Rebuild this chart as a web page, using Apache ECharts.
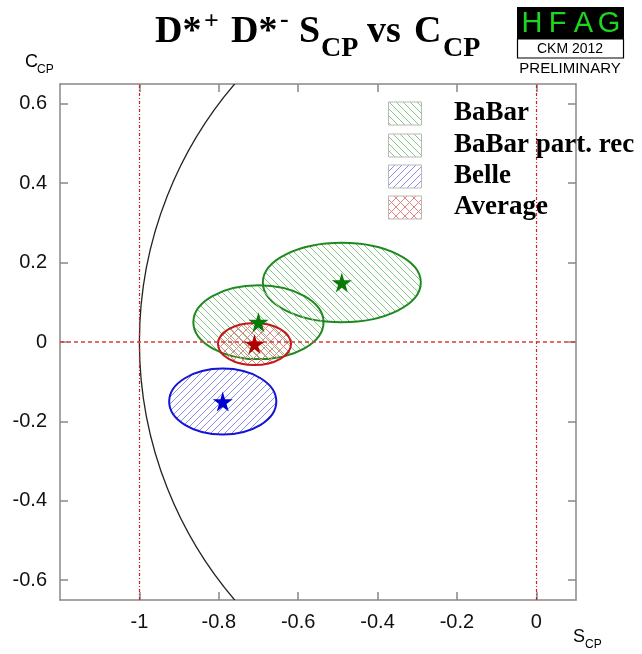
<!DOCTYPE html>
<html>
<head>
<meta charset="utf-8">
<script src="https://cdn.jsdelivr.net/npm/echarts@6/dist/echarts.min.js"></script>
<style>
html, body { margin: 0; padding: 0; background: #fff; }
#chart { width: 642px; height: 654px; }
</style>
</head>
<body>
<div id="chart"></div>
<script>
// measurements
const names = ['BaBar', 'BaBar part. rec', 'Belle', 'Average'];
// central values
const sValues = [-0.49, -0.70, -0.79, -0.71];
const cValues = [0.15, 0.05, -0.15, -0.005];
// half axes of the error ellipses
const sErrors = [0.199, 0.164, 0.135, 0.092];
const cErrors = [0.100, 0.093, 0.083, 0.053];
// physical boundary S^2 + C^2 = 1 : [cx, cy, rx, ry]
const boundary = [[0, 0, 1, 1]];
const xTicks = [-1, -0.8, -0.6, -0.4, -0.2, 0];
const yTicks = [-0.6, -0.4, -0.2, 0, 0.2, 0.4, 0.6];

const strokeColors = ['#1e8a1e', '#1e8a1e', '#1414d6', '#c41818'];
const hatchColors = ['#86c686', '#86c686', '#8e8eec', '#e28484'];
const starColors = ['#087a08', '#087a08', '#0000d2', '#b00000'];
const hatchDirs = ['\\', '\\', '/', 'x'];

function hatch(color, dir) {
  const n = dir === 'x' ? 9 : 7;
  const cv = document.createElement('canvas');
  cv.width = n; cv.height = n;
  const ctx = cv.getContext('2d');
  ctx.strokeStyle = color;
  ctx.lineWidth = 1;
  for (const k of [-n, 0, n]) {
    if (dir === '\\' || dir === 'x') {
      ctx.beginPath(); ctx.moveTo(k, 0); ctx.lineTo(k + n, n); ctx.stroke();
    }
    if (dir === '/' || dir === 'x') {
      ctx.beginPath(); ctx.moveTo(k, n); ctx.lineTo(k + n, 0); ctx.stroke();
    }
  }
  return { image: cv, repeat: 'repeat' };
}
const patterns = hatchDirs.map((d, i) => hatch(hatchColors[i], d));

function ellipsePath(api) {
  const c = api.coord([api.value(0), api.value(1)]);
  const s = api.size([api.value(2), api.value(3)]);
  const rx = s[0], ry = s[1];
  return 'M' + (c[0] - rx) + ',' + c[1] +
    'A' + rx + ',' + ry + ',0,1,0,' + (c[0] + rx) + ',' + c[1] +
    'A' + rx + ',' + ry + ',0,1,0,' + (c[0] - rx) + ',' + c[1] + 'Z';
}

const star = 'path://M50,0L61,35L98,35L68,57L79,91L50,70L21,91L32,57L2,35L39,35Z';

const axisFont = { fontFamily: 'Liberation Sans', fontSize: 20, color: '#111' };
const frame = { show: true, onZero: false, lineStyle: { color: '#888', width: 1.5 } };
const tickIn = { show: true, inside: true, length: 8, lineStyle: { color: '#888', width: 1.5 } };

const graphics = [];
function txt(x, y, text, font, align, fill) {
  graphics.push({
    type: 'text', x: x, y: y, z: 100,
    style: { text: text, font: font, fill: fill || '#000', align: align || 'left', verticalAlign: 'middle' }
  });
}
// title
const big = 'bold 38px "Liberation Serif"';
const sup = 'bold 26px "Liberation Serif"';
const sub = 'bold 28px "Liberation Serif"';
txt(155, 32, 'D*', big);
txt(204, 22, '+', sup);
txt(231, 32, 'D*', big);
txt(280, 20, '-', sup);
txt(299, 32, 'S', big);
txt(321, 49, 'CP', sub);
txt(367, 32, 'vs', big);
txt(414, 32, 'C', big);
txt(443, 49, 'CP', sub);
// axis names
txt(25, 62, 'C', '18px "Liberation Sans"');
txt(37, 70, 'CP', '12px "Liberation Sans"');
txt(573, 637, 'S', '18px "Liberation Sans"');
txt(585, 645, 'CP', '12px "Liberation Sans"');
// HFAG logo
graphics.push({ type: 'rect', shape: { x: 517, y: 7, width: 107, height: 32 }, style: { fill: '#000' }, z: 99 });
graphics.push({ type: 'rect', shape: { x: 517.5, y: 39, width: 106, height: 19 }, style: { fill: '#fff', stroke: '#000', lineWidth: 1.2 }, z: 99 });
['H', 'F', 'A', 'G'].forEach((ch, i) => {
  txt(532 + i * 25.7, 24, ch, '29px "Liberation Sans"', 'center', '#1fd51f');
});
txt(570, 49, 'CKM 2012', '14px "Liberation Sans"', 'center');
txt(570, 69, 'PRELIMINARY', '15px "Liberation Sans"', 'center');
// legend
const legendY = [113.5, 145.5, 176.5, 207.5];
names.forEach((n, i) => {
  graphics.push({
    type: 'rect', z: 100,
    shape: { x: 388.5, y: legendY[i] - 11.5, width: 33, height: 23 },
    style: { fill: patterns[i], stroke: '#b8b8b8', lineWidth: 1 }
  });
  txt(454, legendY[i], n, 'bold 27px "Liberation Serif"');
});

const chart = echarts.init(document.getElementById('chart'));
chart.setOption({
  animation: false,
  backgroundColor: '#fff',
  grid: { left: 60, top: 84, right: 66, bottom: 54 },
  xAxis: [{
    type: 'value', min: -1.2, max: 0.1, position: 'bottom',
    axisLine: frame, axisTick: Object.assign({ customValues: xTicks }, tickIn),
    axisLabel: Object.assign({ customValues: xTicks, margin: 12 }, axisFont),
    splitLine: { show: false }
  }, {
    type: 'value', min: -1.2, max: 0.1, position: 'top',
    axisLine: frame, axisTick: Object.assign({ customValues: xTicks }, tickIn),
    axisLabel: { show: false }, splitLine: { show: false }
  }],
  yAxis: [{
    type: 'value', min: -0.65, max: 0.65, position: 'left',
    axisLine: frame, axisTick: Object.assign({ customValues: yTicks }, tickIn),
    axisLabel: Object.assign({ customValues: yTicks, margin: 13 }, axisFont),
    splitLine: { show: false }
  }, {
    type: 'value', min: -0.65, max: 0.65, position: 'right',
    axisLine: frame, axisTick: Object.assign({ customValues: yTicks }, tickIn),
    axisLabel: { show: false }, splitLine: { show: false }
  }],
  graphic: graphics,
  series: [{
    type: 'custom',
    name: 'boundary',
    clip: true,
    silent: true,
    data: boundary,
    renderItem: (params, api) => ({
      type: 'path',
      shape: { pathData: ellipsePath(api) },
      style: { fill: 'none', stroke: '#222', lineWidth: 1.3 }
    }),
    markLine: {
      silent: true, symbol: 'none', label: { show: false },
      data: [
        { xAxis: -1, lineStyle: { color: '#cc2020', width: 1.2, type: [3, 2, 1, 2] } },
        { xAxis: 0, lineStyle: { color: '#cc2020', width: 1.2, type: [3, 2, 1, 2] } },
        { yAxis: 0, lineStyle: { color: '#dd3a3a', width: 1.6, type: [4, 3] } }
      ]
    }
  }, {
    type: 'custom',
    name: 'ellipses',
    clip: true,
    data: names.map((n, i) => [sValues[i], cValues[i], sErrors[i], cErrors[i], i]),
    renderItem: (params, api) => {
      const i = api.value(4);
      return {
        type: 'path',
        shape: { pathData: ellipsePath(api) },
        style: { fill: patterns[i], stroke: strokeColors[i], lineWidth: 2 }
      };
    }
  }, {
    type: 'scatter',
    name: 'centres',
    symbol: star,
    symbolSize: 20,
    z: 5,
    data: names.map((n, i) => ({ value: [sValues[i], cValues[i]], itemStyle: { color: starColors[i], opacity: 1 } }))
  }]
});
</script>
</body>
</html>
